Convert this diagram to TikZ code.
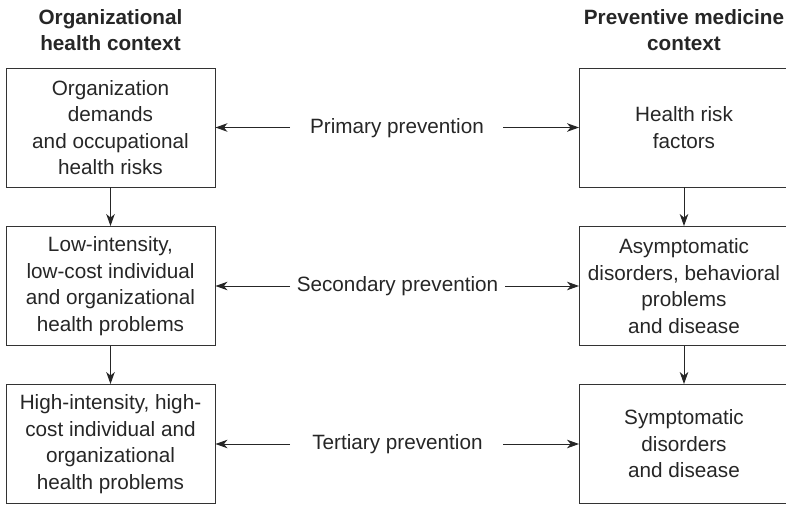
\documentclass[tikz,border=0pt]{standalone}
\usepackage{fontspec}
\setmainfont{Liberation Sans}
\usetikzlibrary{arrows.meta}
\begin{document}
\begin{tikzpicture}[x=1pt,y=-1pt,
  every node/.style={font=\fontsize{20.7}{26.5}\selectfont, text=black!85, inner sep=0pt},
  box/.style={draw=black!80, line width=0.9pt, minimum width=209pt, minimum height=119pt, align=center},
  head/.style={font=\fontsize{20.7}{26.5}\selectfont\bfseries, align=center, text=black!85},
  conn/.style={draw=black!85, line width=1pt, -{Stealth[length=12pt,width=8.5pt,inset=3.5pt]}}]
  \clip (0,0) rectangle (786,505);
  % column headings
  \node[head] (hl) at (110.5,30) {Organizational\\health context};
  \node[head] (hr) at (684,30) {Preventive medicine\\context};
  % organizational column
  \node[box] (o1) at (110.5,127.5) {Organization\\demands\\and occupational\\health risks};
  \node[box] (o2) at (110.5,286) {Low-intensity,\\low-cost individual\\and organizational\\health problems};
  \node[box] (o3) at (110.5,444) {High-intensity, high-\\cost individual and\\organizational\\health problems};
  % preventive medicine column
  \node[box] (m1) at (684,127.5) {Health risk\\factors};
  \node[box] (m2) at (684,286) {Asymptomatic\\disorders, behavioral\\problems\\and disease};
  \node[box] (m3) at (684,444) {Symptomatic\\disorders\\and disease};
  % downward flow
  \draw[conn] (o1) -- (o2);
  \draw[conn] (o2) -- (o3);
  \draw[conn] (m1) -- (m2);
  \draw[conn] (m2) -- (m3);
  % prevention levels
  \node (p1) at (397,128) {Primary prevention};
  \node (p2) at (397.5,286) {Secondary prevention};
  \node (p3) at (397.5,444) {Tertiary prevention};
  \coordinate (p1a) at (290,127.5);
  \coordinate (p1b) at (503,127.5);
  \coordinate (p2a) at (290,286);
  \coordinate (p2b) at (505,286);
  \coordinate (p3a) at (290,444);
  \coordinate (p3b) at (503,444);
  \draw[conn] (p1a) -- (o1);
  \draw[conn] (p1b) -- (m1);
  \draw[conn] (p2a) -- (o2);
  \draw[conn] (p2b) -- (m2);
  \draw[conn] (p3a) -- (o3);
  \draw[conn] (p3b) -- (m3);
\end{tikzpicture}
\end{document}
